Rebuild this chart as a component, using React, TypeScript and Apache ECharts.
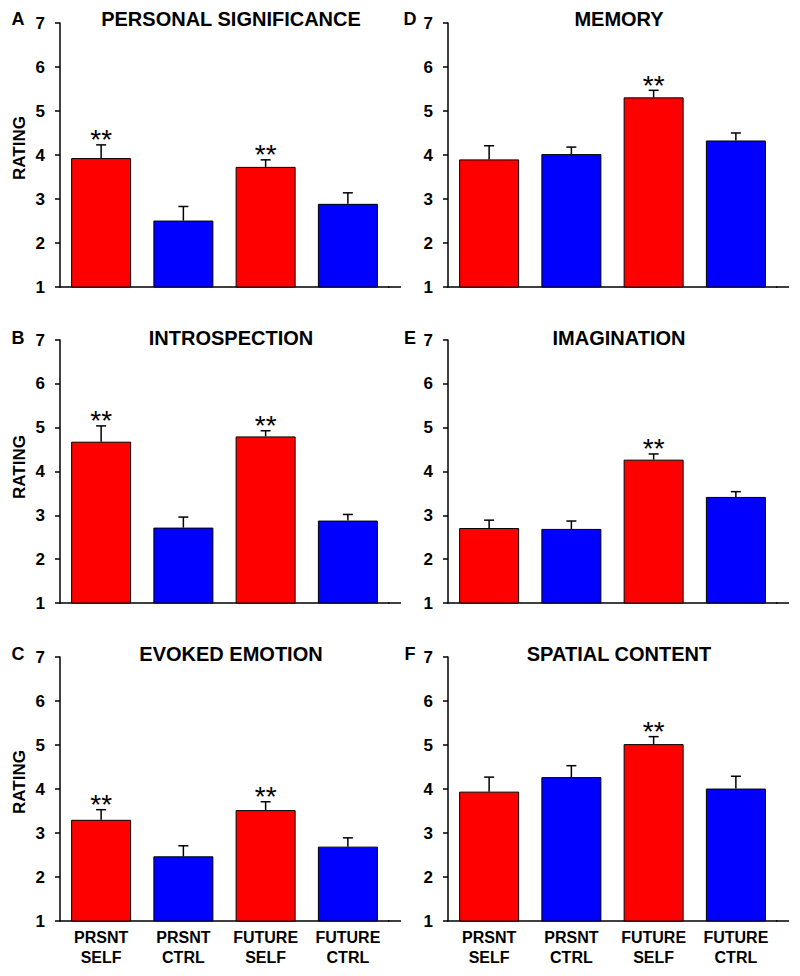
import React, { useEffect, useRef } from 'react';
import * as echarts from 'echarts';

const categories = ['PRSNT\nSELF', 'PRSNT\nCTRL', 'FUTURE\nSELF', 'FUTURE\nCTRL'];
const barColors = ['#FF0000', '#0000FF', '#FF0000', '#0000FF'];
const panelLetters = ['A', 'B', 'C', 'D', 'E', 'F'];
const panelTitles = [
  'PERSONAL SIGNIFICANCE',
  'INTROSPECTION',
  'EVOKED EMOTION',
  'MEMORY',
  'IMAGINATION',
  'SPATIAL CONTENT',
];
const yTicks = [1, 2, 3, 4, 5, 6, 7];

const meansA = [3.93, 2.51, 3.73, 2.89];
const errA = [0.3, 0.32, 0.16, 0.25];
const sigA = [1, 0, 1, 0];

const meansB = [4.68, 2.72, 4.8, 2.88];
const errB = [0.36, 0.24, 0.13, 0.14];
const sigB = [1, 0, 1, 0];

const meansC = [3.3, 2.47, 3.52, 2.69];
const errC = [0.23, 0.24, 0.19, 0.2];
const sigC = [1, 0, 1, 0];

const meansD = [3.9, 4.02, 5.31, 4.33];
const errD = [0.31, 0.16, 0.16, 0.17];
const sigD = [0, 0, 1, 0];

const meansE = [2.71, 2.69, 4.27, 3.42];
const errE = [0.18, 0.18, 0.13, 0.12];
const sigE = [0, 0, 1, 0];

const meansF = [3.94, 4.27, 5.02, 4.01];
const errF = [0.33, 0.26, 0.17, 0.28];
const sigF = [0, 0, 1, 0];

const panelMeans = [meansA, meansB, meansC, meansD, meansE, meansF];
const panelErrs = [errA, errB, errC, errD, errE, errF];
const panelSigs = [sigA, sigB, sigC, sigD, sigE, sigF];

const FONT = '"Liberation Sans", Arial, Helvetica, sans-serif';

// layout
const colLeft = [60, 448];
const gridWidth = 329;
const axisLen = 341;
const rowTop = [23, 340, 657];
const rowHeight = [264, 263, 264];
const titleX = [231, 619];
const titleY = [19, 338, 654];
const letterX = [18, 410];
const ratingY = [148, 467, 782];

export default function App() {
  const ref = useRef<HTMLDivElement>(null);

  useEffect(() => {
    document.body.style.margin = '0';
    if (!ref.current) return;
    const chart = echarts.init(ref.current, undefined, { renderer: 'svg' });

    const grids: any[] = [];
    const xAxes: any[] = [];
    const yAxes: any[] = [];
    const series: any[] = [];
    const graphics: any[] = [];

    for (let p = 0; p < 6; p++) {
      const col = p < 3 ? 0 : 1;
      const row = p % 3;
      const left = colLeft[col];
      const top = rowTop[row];
      const h = rowHeight[row];
      grids.push({ left, top, width: gridWidth, height: h, containLabel: false });
      xAxes.push({
        type: 'category',
        gridIndex: p,
        data: categories,
        boundaryGap: true,
        axisLine: { show: true, lineStyle: { color: '#000', width: 1.5 } },
        axisTick: { show: false },
        axisLabel: {
          show: row === 2,
          interval: 0,
          margin: 6,
          fontFamily: FONT,
          fontWeight: 'bold',
          fontSize: 16,
          lineHeight: 20,
          color: '#000',
        },
        splitLine: { show: false },
      });
      yAxes.push({
        type: 'value',
        gridIndex: p,
        min: yTicks[0],
        max: yTicks[yTicks.length - 1],
        interval: 1,
        axisLine: { show: true, lineStyle: { color: '#000', width: 1.5 } },
        axisTick: { show: true, inside: false, length: 5, lineStyle: { color: '#000', width: 1.5 } },
        axisLabel: {
          margin: 15,
          fontFamily: FONT,
          fontWeight: 'bold',
          fontSize: 17,
          color: '#000',
        },
        splitLine: { show: false },
      });

      const means = panelMeans[p];
      const errs = panelErrs[p];
      const sigs = panelSigs[p];

      series.push({
        type: 'bar',
        xAxisIndex: p,
        yAxisIndex: p,
        barWidth: 60,
        clip: true,
        data: means.map((v, i) => ({
          value: v,
          itemStyle: { color: barColors[i], borderColor: '#000', borderWidth: 1 },
        })),
        z: 2,
      });

      series.push({
        type: 'custom',
        xAxisIndex: p,
        yAxisIndex: p,
        z: 3,
        encode: { x: 0, y: [1, 2] },
        data: means.map((v, i) => [i, v, +(v + errs[i]).toFixed(3)]),
        renderItem: (params: any, api: any) => {
          const x = api.value(0);
          const p0 = api.coord([x, api.value(1)]);
          const p1 = api.coord([x, api.value(2)]);
          return {
            type: 'group',
            children: [
              {
                type: 'line',
                shape: { x1: p0[0], y1: p0[1], x2: p1[0], y2: p1[1] },
                style: { stroke: '#000', lineWidth: 1.5 },
              },
              {
                type: 'line',
                shape: { x1: p1[0] - 5, y1: p1[1], x2: p1[0] + 5, y2: p1[1] },
                style: { stroke: '#000', lineWidth: 1.5 },
              },
            ],
          };
        },
      });

      const starData = means
        .map((v, i) => [i, +(v + errs[i]).toFixed(3), sigs[i]])
        .filter((d) => d[2] === 1)
        .map((d) => [d[0], d[1]]);
      series.push({
        type: 'custom',
        xAxisIndex: p,
        yAxisIndex: p,
        z: 4,
        encode: { x: 0, y: 1 },
        data: starData,
        renderItem: (params: any, api: any) => {
          const pt = api.coord([api.value(0), api.value(1)]);
          return {
            type: 'text',
            x: pt[0],
            y: pt[1] + 9,
            style: {
              text: '**',
              fontSize: 28,
              fontFamily: FONT,
              fill: '#000',
              align: 'center',
              verticalAlign: 'bottom',
              textAlign: 'center',
              textVerticalAlign: 'bottom',
            },
          };
        },
      });

      // axis extension beyond last category
      graphics.push({
        type: 'line',
        shape: { x1: left + gridWidth - 1, y1: top + h, x2: left + axisLen, y2: top + h },
        style: { stroke: '#000', lineWidth: 1.5 },
      });

      graphics.push({
        type: 'text',
        x: letterX[col],
        y: titleY[row],
        style: {
          text: panelLetters[p],
          font: `bold 18px ${FONT}`,
          fill: '#000',
          align: 'center',
          verticalAlign: 'middle',
          textAlign: 'center',
          textVerticalAlign: 'middle',
        },
      });
      graphics.push({
        type: 'text',
        x: titleX[col],
        y: titleY[row],
        style: {
          text: panelTitles[p],
          font: `bold 20px ${FONT}`,
          fill: '#000',
          align: 'center',
          verticalAlign: 'middle',
          textAlign: 'center',
          textVerticalAlign: 'middle',
        },
      });
      if (col === 0) {
        graphics.push({
          type: 'text',
          x: 19,
          y: ratingY[row],
          rotation: Math.PI / 2,
          style: {
            text: 'RATING',
            font: `bold 17px ${FONT}`,
            fill: '#000',
            align: 'center',
            verticalAlign: 'middle',
            textAlign: 'center',
            textVerticalAlign: 'middle',
          },
        });
      }
    }

    chart.setOption({
      animation: false,
      backgroundColor: '#fff',
      grid: grids,
      xAxis: xAxes,
      yAxis: yAxes,
      series,
      graphic: graphics,
    });

    return () => chart.dispose();
  }, []);

  return <div ref={ref} style={{ width: 800, height: 976 }} />;
}
